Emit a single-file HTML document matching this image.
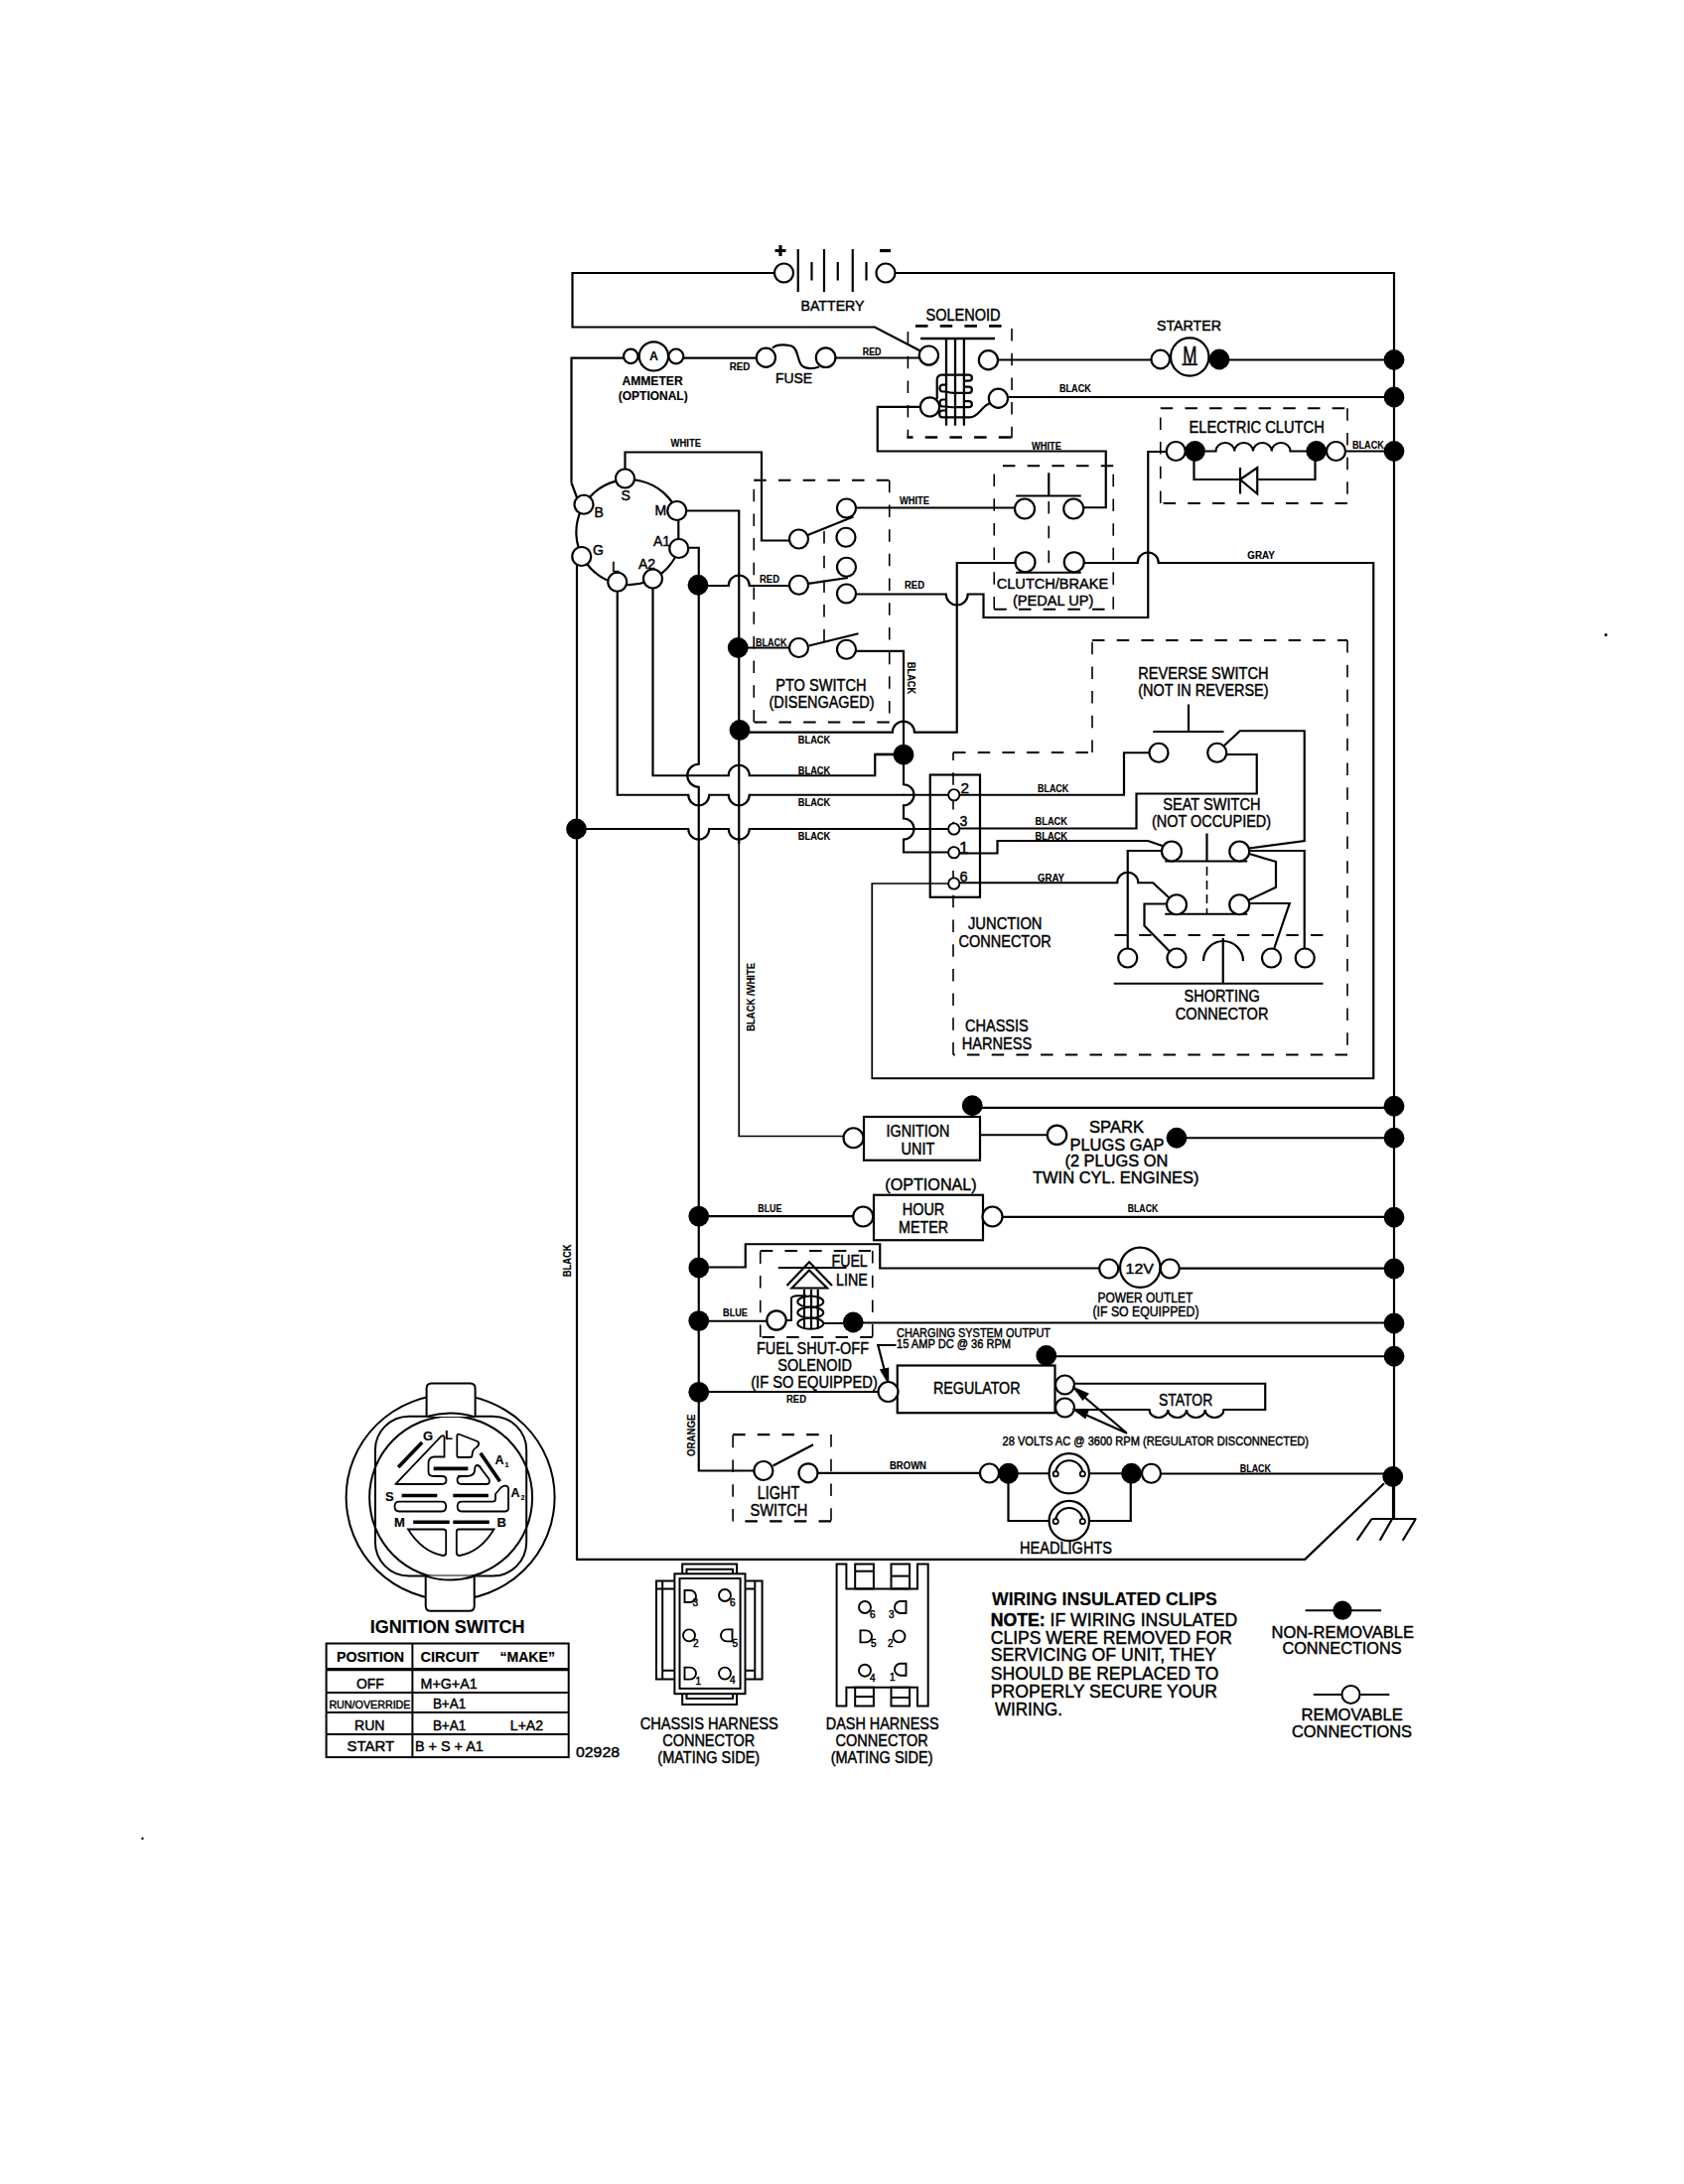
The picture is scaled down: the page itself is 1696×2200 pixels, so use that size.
<!DOCTYPE html>
<html><head><meta charset="utf-8"><style>
html,body{margin:0;padding:0;background:#fff;}
svg{display:block;}
text{font-family:"Liberation Sans",sans-serif;fill:#000;stroke:#000;stroke-width:0.45px;}
text[font-weight="bold"]{stroke-width:0.15px;}
</style></head><body>
<svg width="1696" height="2200" viewBox="0 0 1696 2200" stroke="#000" fill="none" stroke-linecap="butt" stroke-linejoin="miter">
<rect x="0" y="0" width="1696" height="2200" fill="#fff" stroke="none"/>
<path d="M780,275 H576.5 V329.5 H881 L927,353.5" stroke-width="2.2"/>
<circle cx="789.5" cy="275" r="9.5" fill="#fff" stroke-width="2.2"/>
<circle cx="892" cy="275" r="9.5" fill="#fff" stroke-width="2.2"/>
<line x1="803.75" y1="251" x2="803.75" y2="294" stroke-width="2.2"/>
<line x1="830" y1="251" x2="830" y2="294" stroke-width="2.2"/>
<line x1="858.75" y1="251" x2="858.75" y2="294" stroke-width="2.2"/>
<line x1="817.5" y1="264" x2="817.5" y2="282.5" stroke-width="2.2"/>
<line x1="843.75" y1="264" x2="843.75" y2="282.5" stroke-width="2.2"/>
<line x1="872.5" y1="264" x2="872.5" y2="282.5" stroke-width="2.2"/>
<path d="M901.5,275 H1404 V1530" stroke-width="2.2"/>
<path d="M780.5,252.5 H791.5 M786,247 V258" stroke-width="3.2"/>
<path d="M886,252.5 H897" stroke-width="3.2"/>
<text x="806.5" y="312.5" font-size="15.26" textLength="64" lengthAdjust="spacingAndGlyphs">BATTERY</text>
<text x="932.5" y="322.5" font-size="16.28" textLength="75" lengthAdjust="spacingAndGlyphs">SOLENOID</text>
<path d="M922,328.4 L1010,328.4" stroke-width="2.6" stroke-dasharray="12.5 12.2" stroke-dashoffset="0"/>
<path d="M914.4,334 L914.4,441.2" stroke-width="1.6" stroke-dasharray="12.5 12.2" stroke-dashoffset="0"/>
<path d="M913.5,440.5 L1019,440.5" stroke-width="2.5" stroke-dasharray="6 12.2 12.5 12.2 12.5 12.2 12.5 12.2 12.5 12.2" stroke-dashoffset="0"/>
<path d="M1019,331 L1019,441.2" stroke-width="1.6" stroke-dasharray="12.5 12.2" stroke-dashoffset="0"/>
<line x1="927.1" y1="340.9" x2="1001.9" y2="340.9" stroke-width="2.5"/>
<line x1="953" y1="340.9" x2="953" y2="428.7" stroke-width="2.3"/>
<line x1="962" y1="340.9" x2="962" y2="428.7" stroke-width="2.3"/>
<line x1="970.9" y1="340.9" x2="970.9" y2="428.7" stroke-width="2.3"/>
<path d="M943.7,402 V382.5 Q944,377.7 949,377.7 H975.5 C980,377.7 980,383.6 975.5,383.6 H971" stroke-width="2.2"/>
<path d="M971,389.6 H975.5 C980,389.6 980,395.8 975.5,395.8 H962 Q957,396 953,394.5 H949.5 C945.5,394.5 945.5,387.6 949.5,387.6 H953" stroke-width="2.2"/>
<path d="M971,404.2 H975.5 C980,404.2 980,410.2 975.5,410.2 H962 Q957,410.5 953,409.5 H949.5 C945.5,409.5 945.5,402.5 949.5,402.5 H953" stroke-width="2.2"/>
<path d="M953,413.5 H949.5 C945,413.5 945,420.3 949.5,420.3 H977 C985,420.3 988,410 996.6,406.2" stroke-width="2.2"/>
<circle cx="935.4" cy="358.1" r="9.6" fill="#fff" stroke-width="2.2"/>
<circle cx="995.4" cy="362.8" r="9.6" fill="#fff" stroke-width="2.2"/>
<circle cx="936.5" cy="409.9" r="9.6" fill="#fff" stroke-width="2.2"/>
<circle cx="1005.4" cy="401.3" r="9.6" fill="#fff" stroke-width="2.2"/>
<path d="M1005,362.5 H1159.5" stroke-width="2.2"/>
<circle cx="1168.75" cy="362" r="9.3" fill="#fff" stroke-width="2.2"/>
<circle cx="1198.25" cy="359.5" r="19.2" fill="#fff" stroke-width="2.2"/>
<text x="1191.2" y="366.4" font-size="23.5" textLength="14.2" lengthAdjust="spacingAndGlyphs">M</text>
<line x1="1190.5" y1="367.2" x2="1206" y2="367.2" stroke-width="1.8"/>
<circle cx="1228" cy="362" r="10.4" fill="#000" stroke="none"/>
<path d="M1237,362.5 H1404" stroke-width="2.2"/>
<text x="1165" y="333" font-size="15.26" textLength="65" lengthAdjust="spacingAndGlyphs">STARTER</text>
<path d="M1015,400 H1404" stroke-width="2.2"/>
<text x="1067" y="395" font-size="10.17" font-weight="bold" textLength="31.75" lengthAdjust="spacingAndGlyphs">BLACK</text>
<circle cx="1404" cy="362.5" r="10.4" fill="#000" stroke="none"/>
<circle cx="1404" cy="400" r="10.4" fill="#000" stroke="none"/>
<circle cx="1404" cy="454.5" r="10.4" fill="#000" stroke="none"/>
<path d="M575.5,486.5 V360.65 H628.5" stroke-width="2.2"/>
<path d="M581,501 L575.5,486.5" stroke-width="2.2"/>
<circle cx="635.3" cy="358.9" r="7.2" fill="#fff" stroke-width="2.2"/>
<circle cx="658.4" cy="358.9" r="14.6" fill="#fff" stroke-width="2.2"/>
<circle cx="680.9" cy="358.9" r="7.4" fill="#fff" stroke-width="2.2"/>
<text x="658.5" y="362.8" font-size="12.35" font-weight="bold" text-anchor="middle">A</text>
<path d="M688.3,360.65 H761.8" stroke-width="2.2"/>
<circle cx="771.4" cy="360.3" r="9.6" fill="#fff" stroke-width="2.2"/>
<circle cx="831.6" cy="360.2" r="9.8" fill="#fff" stroke-width="2.2"/>
<path d="M778,350.5 C782,347 790,347 797,348.5 C803,350 803,360 806,366 C809,372 818,372 825,369.5" stroke-width="2.2"/>
<path d="M841.4,360.5 H926" stroke-width="2.2"/>
<text x="734.7" y="372.8" font-size="10.47" font-weight="bold" textLength="20.7" lengthAdjust="spacingAndGlyphs">RED</text>
<text x="868.75" y="358" font-size="10.17" font-weight="bold" textLength="18.75" lengthAdjust="spacingAndGlyphs">RED</text>
<text x="781" y="386.3" font-size="14.53" textLength="37.1" lengthAdjust="spacingAndGlyphs">FUSE</text>
<text x="626.4" y="388.4" font-size="12.35" font-weight="bold" textLength="61.3" lengthAdjust="spacingAndGlyphs">AMMETER</text>
<text x="622.8" y="402.5" font-size="12.79" font-weight="bold" textLength="69.9" lengthAdjust="spacingAndGlyphs">(OPTIONAL)</text>
<path d="M926.9,409.9 H883.75 V454.5 H1113.75 V511.25 H1091.3" stroke-width="2.2"/>
<text x="1039" y="453" font-size="10.17" font-weight="bold" textLength="30" lengthAdjust="spacingAndGlyphs">WHITE</text>
<path d="M683.75,552.5 A53,53 0 1 1 681.75,514.5" stroke-width="2.2"/>
<path d="M683.3,522 V544" stroke-width="2.2"/>
<path d="M629.5,472.5 V455.5 H767 V544.5 H795" stroke-width="2.2"/>
<text x="675.5" y="450" font-size="10.17" font-weight="bold" textLength="30.5" lengthAdjust="spacingAndGlyphs">WHITE</text>
<path d="M691.2,514.5 H744.25 V850" stroke-width="2.2"/>
<path d="M744.25,848 V1144.5 H849.8" stroke-width="1.7"/>
<path d="M693.2,551.75 H703.75 V769.75 A11.5,11.5 0 0 0 703.75,792.75 V1481.5 H759.4" stroke-width="2.2"/>
<path d="M581,569 V1570.8 H1314.2 L1394,1494.3" stroke-width="2.2"/>
<path d="M621.75,595.7 V800.75 H693.25 A10.5,10.5 0 0 0 714.25,800.75 H733.75 A10.5,10.5 0 0 0 754.75,800.75 H909.99 A0.01,0.01 0 0 1 910.01,800.75 H955.7" stroke-width="2.2"/>
<path d="M657.5,592.5 V781.25 H733.75 A10.5,10.5 0 0 1 754.75,781.25 H881.25 V760.2 H900" stroke-width="2.2"/>
<circle cx="580.5" cy="835" r="10.4" fill="#000" stroke="none"/>
<path d="M590,835 H693.25 A10.5,10.5 0 0 0 714.25,835 H733.75 A10.5,10.5 0 0 0 754.75,835 H955.7" stroke-width="2.2"/>
<circle cx="629.5" cy="482" r="9.5" fill="#fff" stroke-width="2.2"/>
<circle cx="588" cy="508.25" r="9.5" fill="#fff" stroke-width="2.2"/>
<circle cx="681.75" cy="514.5" r="9.5" fill="#fff" stroke-width="2.2"/>
<circle cx="683.75" cy="552.5" r="9.5" fill="#fff" stroke-width="2.2"/>
<circle cx="585.75" cy="560.5" r="9.5" fill="#fff" stroke-width="2.2"/>
<circle cx="621.75" cy="586.25" r="9.5" fill="#fff" stroke-width="2.2"/>
<circle cx="657.5" cy="583" r="9.5" fill="#fff" stroke-width="2.2"/>
<text x="625.5" y="504" font-size="14">S</text>
<text x="598.5" y="521" font-size="14">B</text>
<text x="659.5" y="519" font-size="14">M</text>
<text x="658" y="549.5" font-size="14">A1</text>
<text x="597" y="559" font-size="14">G</text>
<text x="616" y="575.5" font-size="14">L</text>
<text x="643" y="573" font-size="14">A2</text>
<path d="M759.25,727.5 L759.25,483.75" stroke-width="1.6" stroke-dasharray="12.5 12.2" stroke-dashoffset="0"/>
<path d="M759.25,483.75 L895.75,483.75" stroke-width="2.2" stroke-dasharray="12.5 12.2" stroke-dashoffset="0"/>
<path d="M895.75,483.75 L895.75,727.5" stroke-width="1.6" stroke-dasharray="12.5 12.2" stroke-dashoffset="0"/>
<path d="M895.75,727.5 L759.25,727.5" stroke-width="2.2" stroke-dasharray="12.5 12.2" stroke-dashoffset="0"/>
<path d="M830,535 L830,648" stroke-width="1.6" stroke-dasharray="12.5 12.2" stroke-dashoffset="0"/>
<circle cx="852.5" cy="512" r="9.5" fill="#fff" stroke-width="2.2"/>
<circle cx="804.5" cy="543" r="9.5" fill="#fff" stroke-width="2.2"/>
<circle cx="852" cy="541.25" r="9.5" fill="#fff" stroke-width="2.2"/>
<circle cx="852.5" cy="571.25" r="9.5" fill="#fff" stroke-width="2.2"/>
<circle cx="804.5" cy="589.25" r="9.5" fill="#fff" stroke-width="2.2"/>
<circle cx="852.5" cy="598" r="9.5" fill="#fff" stroke-width="2.2"/>
<circle cx="804.5" cy="652.5" r="9.5" fill="#fff" stroke-width="2.2"/>
<circle cx="852.5" cy="654.25" r="9.5" fill="#fff" stroke-width="2.2"/>
<line x1="813.5" y1="539" x2="859.5" y2="520.5" stroke-width="2.2"/>
<line x1="814" y1="587.8" x2="854" y2="582" stroke-width="2.2"/>
<line x1="814.5" y1="650.5" x2="864.5" y2="638.25" stroke-width="2.2"/>
<path d="M862,511.5 H1022.3" stroke-width="2.2"/>
<text x="906" y="507.5" font-size="10.17" font-weight="bold" textLength="30" lengthAdjust="spacingAndGlyphs">WHITE</text>
<circle cx="703" cy="589.25" r="10.4" fill="#000" stroke="none"/>
<path d="M712,590 H733.75 A10.5,10.5 0 0 1 754.75,590 H795" stroke-width="2.2"/>
<text x="765" y="587" font-size="10.17" font-weight="bold" textLength="20" lengthAdjust="spacingAndGlyphs">RED</text>
<path d="M862,598.5 H952.75 A11,11 0 0 0 974.75,598.5 H990.5 V622 H1156.25 V455 H1174.7" stroke-width="2.2"/>
<text x="911" y="592.5" font-size="10.17" font-weight="bold" textLength="20" lengthAdjust="spacingAndGlyphs">RED</text>
<circle cx="743.25" cy="652.5" r="10.4" fill="#000" stroke="none"/>
<path d="M752,652.5 H795" stroke-width="2.2"/>
<text x="761" y="650.75" font-size="10.17" font-weight="bold" textLength="31.5" lengthAdjust="spacingAndGlyphs">BLACK</text>
<text x="781.25" y="695.5" font-size="16.72" textLength="91.25" lengthAdjust="spacingAndGlyphs">PTO SWITCH</text>
<text x="774.5" y="712.5" font-size="16.72" textLength="106" lengthAdjust="spacingAndGlyphs">(DISENGAGED)</text>
<path d="M862,655.8 H910 V737.7 V760 V790.25 A10.5,10.5 0 0 1 910,811.25 V824.5 A10.5,10.5 0 0 1 910,845.5 V858.5 H955.7" stroke-width="2.2"/>
<text x="667" y="-914" font-size="10.5" font-weight="bold" textLength="32" lengthAdjust="spacingAndGlyphs" transform="rotate(90)">BLACK</text>
<circle cx="910" cy="760.1" r="10.4" fill="#000" stroke="none"/>
<circle cx="745" cy="735.5" r="10.4" fill="#000" stroke="none"/>
<path d="M754,737.6 H898.9 A11,11 0 0 1 920.9,737.6 H963.75 V567 H1022.5" stroke-width="2.2"/>
<path d="M880.8,759.7 H900" stroke-width="2.2"/>
<text x="803.75" y="749" font-size="10.17" font-weight="bold" textLength="32.5" lengthAdjust="spacingAndGlyphs">BLACK</text>
<text x="803.75" y="779.5" font-size="10.17" font-weight="bold" textLength="32.5" lengthAdjust="spacingAndGlyphs">BLACK</text>
<text x="803.75" y="812" font-size="10.17" font-weight="bold" textLength="32.5" lengthAdjust="spacingAndGlyphs">BLACK</text>
<text x="803.75" y="845.5" font-size="10.17" font-weight="bold" textLength="32.5" lengthAdjust="spacingAndGlyphs">BLACK</text>
<path d="M1001.25,477.5 L1001.25,613.75" stroke-width="1.6" stroke-dasharray="12.5 12.2" stroke-dashoffset="0"/>
<path d="M1001.25,613.75 L1121.25,613.75" stroke-width="2.2" stroke-dasharray="12.5 12.2" stroke-dashoffset="0"/>
<path d="M1121.25,613.75 L1121.25,469.25" stroke-width="1.6" stroke-dasharray="12.5 12.2" stroke-dashoffset="0"/>
<path d="M1121.25,469.25 L1001.25,469.25" stroke-width="2.2" stroke-dasharray="12.5 12.2" stroke-dashoffset="0"/>
<line x1="1056.25" y1="476.25" x2="1056.25" y2="499.5" stroke-width="2.2"/>
<line x1="1023.25" y1="499.5" x2="1088.75" y2="499.5" stroke-width="2.2"/>
<path d="M1056.25,505 L1056.25,576" stroke-width="1.6" stroke-dasharray="12.5 12.2" stroke-dashoffset="0"/>
<line x1="1023.25" y1="576.75" x2="1088.75" y2="576.75" stroke-width="2.2"/>
<circle cx="1032" cy="512.5" r="10" fill="#fff" stroke-width="2.2"/>
<circle cx="1081.25" cy="512.5" r="10" fill="#fff" stroke-width="2.2"/>
<circle cx="1032.5" cy="566.25" r="10" fill="#fff" stroke-width="2.2"/>
<circle cx="1081.75" cy="566.25" r="10" fill="#fff" stroke-width="2.2"/>
<text x="1003.75" y="593" font-size="15.26" textLength="112.5" lengthAdjust="spacingAndGlyphs">CLUTCH/BRAKE</text>
<text x="1020" y="610" font-size="15.26" textLength="81.25" lengthAdjust="spacingAndGlyphs">(PEDAL UP)</text>
<path d="M1091.5,567 H1145.75 A10.5,10.5 0 0 1 1166.75,567 H1383.25 V1086.25 H878.25" stroke-width="2.2"/>
<path d="M878.25,1087 V890 H956.2" stroke-width="1.7"/>
<text x="1256.25" y="562.5" font-size="10.17" font-weight="bold" textLength="27.5" lengthAdjust="spacingAndGlyphs">GRAY</text>
<path d="M1168.75,507 L1168.75,411.25" stroke-width="1.6" stroke-dasharray="12.5 12.2" stroke-dashoffset="0"/>
<path d="M1168.75,411.25 L1357,411.25" stroke-width="2.2" stroke-dasharray="12.5 12.2" stroke-dashoffset="0"/>
<path d="M1357,411.25 L1357,507" stroke-width="1.6" stroke-dasharray="12.5 12.2" stroke-dashoffset="0"/>
<path d="M1357,507 L1168.75,507" stroke-width="2.2" stroke-dasharray="12.5 12.2" stroke-dashoffset="0"/>
<text x="1197.5" y="436.25" font-size="15.99" textLength="136.25" lengthAdjust="spacingAndGlyphs">ELECTRIC CLUTCH</text>
<circle cx="1184.25" cy="454.5" r="9.5" fill="#fff" stroke-width="2.2"/>
<circle cx="1203.5" cy="454.5" r="10.4" fill="#000" stroke="none"/>
<circle cx="1325.75" cy="454.5" r="10.4" fill="#000" stroke="none"/>
<circle cx="1345.5" cy="454.5" r="9.5" fill="#fff" stroke-width="2.2"/>
<path d="M1203.5,454.5 H1224.5 A9.375,8.5 0 0 1 1243.25,454.5 A9.375,8.5 0 0 1 1262,454.5 A9.375,8.5 0 0 1 1280.75,454.5 A9.375,8.5 0 0 1 1299.5,454.5 H1325.75" stroke-width="2.2"/>
<path d="M1202.5,454.5 V483 H1249 M1266.25,483 H1324.5 V454.5" stroke-width="2.2"/>
<line x1="1249" y1="471" x2="1249" y2="497.5" stroke-width="2.2"/>
<path d="M1249,483 L1266.25,471 V497.5 Z" stroke-width="2.2"/>
<path d="M1355,454.5 H1404" stroke-width="2.2"/>
<text x="1362" y="452" font-size="10.17" font-weight="bold" textLength="31.75" lengthAdjust="spacingAndGlyphs">BLACK</text>
<rect x="936.75" y="780.5" width="50.25" height="123.25" fill="none" stroke-width="2.2"/>
<path d="M960,758 L1100,758" stroke-width="2.2" stroke-dasharray="12.5 12.2" stroke-dashoffset="0"/>
<path d="M1100,758 L1100,645" stroke-width="1.6" stroke-dasharray="12.5 12.2" stroke-dashoffset="0"/>
<path d="M1100,645 L1357,645" stroke-width="2.2" stroke-dasharray="12.5 12.2" stroke-dashoffset="0"/>
<path d="M1357,645 L1357,1062.5" stroke-width="1.6" stroke-dasharray="12.5 12.2" stroke-dashoffset="0"/>
<path d="M1357,1062.5 L960,1062.5" stroke-width="2.2" stroke-dasharray="12.5 12.2" stroke-dashoffset="0"/>
<path d="M960,1062.5 L960,758" stroke-width="1.6" stroke-dasharray="12.5 12.2" stroke-dashoffset="0"/>
<circle cx="960.75" cy="800.75" r="5.6" fill="#fff" stroke-width="1.9"/>
<circle cx="960.75" cy="835" r="5.6" fill="#fff" stroke-width="1.9"/>
<circle cx="960.75" cy="858.75" r="5.6" fill="#fff" stroke-width="1.9"/>
<circle cx="960.75" cy="890" r="5.6" fill="#fff" stroke-width="1.9"/>
<text x="967.5" y="798.7" font-size="15.29">2</text>
<text x="966.5" y="831.7" font-size="14">3</text>
<text x="966" y="859.5" font-size="17.14">1</text>
<text x="966.5" y="887.6" font-size="14.57">6</text>
<text x="975" y="936.25" font-size="15.99" textLength="74.5" lengthAdjust="spacingAndGlyphs">JUNCTION</text>
<text x="965.5" y="954.25" font-size="15.99" textLength="93.25" lengthAdjust="spacingAndGlyphs">CONNECTOR</text>
<text x="972" y="1038.75" font-size="15.7" textLength="63.75" lengthAdjust="spacingAndGlyphs">CHASSIS</text>
<text x="968.75" y="1056.75" font-size="16.28" textLength="70.5" lengthAdjust="spacingAndGlyphs">HARNESS</text>
<text x="1045" y="798" font-size="10.17" font-weight="bold" textLength="31.25" lengthAdjust="spacingAndGlyphs">BLACK</text>
<text x="1042.5" y="831.25" font-size="10.17" font-weight="bold" textLength="32.5" lengthAdjust="spacingAndGlyphs">BLACK</text>
<text x="1042.5" y="845.5" font-size="10.17" font-weight="bold" textLength="32.5" lengthAdjust="spacingAndGlyphs">BLACK</text>
<text x="1045" y="887.5" font-size="10.17" font-weight="bold" textLength="27" lengthAdjust="spacingAndGlyphs">GRAY</text>
<text x="1146.25" y="683.5" font-size="15.99" textLength="131.25" lengthAdjust="spacingAndGlyphs">REVERSE SWITCH</text>
<text x="1146.25" y="700.5" font-size="15.99" textLength="131.25" lengthAdjust="spacingAndGlyphs">(NOT IN REVERSE)</text>
<line x1="1197" y1="709.5" x2="1197" y2="737" stroke-width="2.2"/>
<line x1="1161.25" y1="737" x2="1232.5" y2="737" stroke-width="2.2"/>
<circle cx="1167" cy="758.25" r="9.5" fill="#fff" stroke-width="2.2"/>
<circle cx="1225.75" cy="758.25" r="9.5" fill="#fff" stroke-width="2.2"/>
<path d="M966,800.75 H1132 V758.25 H1157.5" stroke-width="2.2"/>
<path d="M1233,751 L1248.75,736.25 H1313.75 V847 L1258,854.5" stroke-width="2.2"/>
<path d="M1235.25,760 H1265.75 V799.5 H1144.5 V834.5 H966" stroke-width="2.2"/>
<text x="1171.25" y="816.25" font-size="16.28" textLength="98.25" lengthAdjust="spacingAndGlyphs">SEAT SWITCH</text>
<text x="1160" y="833" font-size="16.28" textLength="120" lengthAdjust="spacingAndGlyphs">(NOT OCCUPIED)</text>
<line x1="1215.5" y1="839.5" x2="1215.5" y2="867.5" stroke-width="2.2"/>
<line x1="1173.25" y1="867.5" x2="1256.25" y2="867.5" stroke-width="2.2"/>
<path d="M1215.5,873 L1215.5,920" stroke-width="1.6" stroke-dasharray="9 5" stroke-dashoffset="0"/>
<line x1="1173.25" y1="920.75" x2="1256.25" y2="920.75" stroke-width="2.2"/>
<path d="M966,859.5 H1004.5 V847 H1156.25 L1172,852.5" stroke-width="2.2"/>
<path d="M1170,857 H1135.75 V955.5" stroke-width="2.2"/>
<path d="M1258,857 H1313.75 V955.5" stroke-width="2.2"/>
<path d="M1258,860 L1285,868 V893.75 L1257,907" stroke-width="2.2"/>
<path d="M966,889.25 H1125.25 A10.5,10.5 0 0 1 1146.25,889.25 H1161.25 L1177,904" stroke-width="2.2"/>
<path d="M1175,910.5 H1152.5 V932.5 L1178,958.5" stroke-width="2.2"/>
<path d="M1258,910 H1298.75 L1283,956" stroke-width="2.2"/>
<circle cx="1180" cy="857.5" r="10" fill="#fff" stroke-width="2.2"/>
<circle cx="1248.25" cy="857.5" r="10" fill="#fff" stroke-width="2.2"/>
<circle cx="1185" cy="911.25" r="10" fill="#fff" stroke-width="2.2"/>
<circle cx="1248.25" cy="911.25" r="10" fill="#fff" stroke-width="2.2"/>
<path d="M1122.5,942 L1332.5,942" stroke-width="1.8" stroke-dasharray="12.3 12.4" stroke-dashoffset="0"/>
<circle cx="1135.75" cy="965" r="9.5" fill="#fff" stroke-width="2.2"/>
<circle cx="1185" cy="965" r="9.5" fill="#fff" stroke-width="2.2"/>
<circle cx="1280.5" cy="965" r="9.5" fill="#fff" stroke-width="2.2"/>
<circle cx="1314.25" cy="965" r="9.5" fill="#fff" stroke-width="2.2"/>
<path d="M1212,968 A20,20 0 0 1 1252,968" stroke-width="2.2"/>
<line x1="1231.75" y1="945" x2="1231.75" y2="990.75" stroke-width="2.2"/>
<line x1="1121.75" y1="990.75" x2="1332.5" y2="990.75" stroke-width="2.2"/>
<text x="1192.5" y="1008.75" font-size="15.7" textLength="76.25" lengthAdjust="spacingAndGlyphs">SHORTING</text>
<text x="1183.75" y="1027" font-size="15.7" textLength="93.75" lengthAdjust="spacingAndGlyphs">CONNECTOR</text>
<rect x="870" y="1125" width="117" height="43.75" fill="none" stroke-width="2.2"/>
<text x="892.5" y="1145" font-size="15.7" textLength="63.75" lengthAdjust="spacingAndGlyphs">IGNITION</text>
<text x="907.5" y="1162.5" font-size="16.28" textLength="33.75" lengthAdjust="spacingAndGlyphs">UNIT</text>
<circle cx="859.5" cy="1146.25" r="10" fill="#fff" stroke-width="2.2"/>
<circle cx="979.25" cy="1113.75" r="10.4" fill="#000" stroke="none"/>
<path d="M989,1115.8 H1404" stroke-width="2.2"/>
<path d="M987,1143.25 H1054.5" stroke-width="2.2"/>
<circle cx="1064.5" cy="1143.25" r="9.7" fill="#fff" stroke-width="2.2"/>
<circle cx="1185" cy="1146.25" r="10.4" fill="#000" stroke="none"/>
<path d="M1195,1146.25 H1404" stroke-width="2.2"/>
<text x="1097" y="1141.25" font-size="16.28" textLength="55" lengthAdjust="spacingAndGlyphs">SPARK</text>
<text x="1077.5" y="1158.75" font-size="16.72" textLength="95" lengthAdjust="spacingAndGlyphs">PLUGS GAP</text>
<text x="1072.5" y="1174.5" font-size="16.42" textLength="103.75" lengthAdjust="spacingAndGlyphs">(2 PLUGS ON</text>
<text x="1040" y="1191.5" font-size="16.42" textLength="167.5" lengthAdjust="spacingAndGlyphs">TWIN CYL. ENGINES)</text>
<text x="-1038.75" y="760" font-size="10" font-weight="bold" textLength="68.75" lengthAdjust="spacingAndGlyphs" transform="rotate(-90)">BLACK /WHITE</text>
<circle cx="703.75" cy="1225.1" r="10.4" fill="#000" stroke="none"/>
<path d="M713,1225.2 H859.3" stroke-width="2.2"/>
<text x="763.25" y="1220.8" font-size="10.9" font-weight="bold" textLength="24.25" lengthAdjust="spacingAndGlyphs">BLUE</text>
<rect x="880" y="1203.75" width="110" height="45.5" fill="none" stroke-width="2.2"/>
<circle cx="869.25" cy="1225.5" r="10" fill="#fff" stroke-width="2.2"/>
<circle cx="999.5" cy="1225.5" r="10" fill="#fff" stroke-width="2.2"/>
<path d="M1009.5,1225.9 H1404" stroke-width="2.2"/>
<text x="891.25" y="1199" font-size="16.72" textLength="92.5" lengthAdjust="spacingAndGlyphs">(OPTIONAL)</text>
<text x="908.75" y="1224.25" font-size="16.28" textLength="42.5" lengthAdjust="spacingAndGlyphs">HOUR</text>
<text x="905" y="1242" font-size="15.7" textLength="50" lengthAdjust="spacingAndGlyphs">METER</text>
<text x="1135.75" y="1221.25" font-size="10.61" font-weight="bold" textLength="30.5" lengthAdjust="spacingAndGlyphs">BLACK</text>
<circle cx="703.75" cy="1277" r="10.4" fill="#000" stroke="none"/>
<path d="M713,1276.5 H750.75 V1253.25 H886.25 V1277.5 H1107.2" stroke-width="2.2"/>
<circle cx="1116.75" cy="1278" r="9.5" fill="#fff" stroke-width="2.2"/>
<circle cx="1148.25" cy="1276.75" r="20.2" fill="#fff" stroke-width="2.2"/>
<circle cx="1178.25" cy="1278" r="9.5" fill="#fff" stroke-width="2.2"/>
<text x="1133.5" y="1283" font-size="14.5" textLength="28.5" lengthAdjust="spacingAndGlyphs">12V</text>
<path d="M1187.8,1277.7 H1402" stroke-width="2.2"/>
<text x="1105.5" y="1312" font-size="13.95" textLength="95.75" lengthAdjust="spacingAndGlyphs">POWER OUTLET</text>
<text x="1100.5" y="1325.5" font-size="13.95" textLength="107" lengthAdjust="spacingAndGlyphs">(IF SO EQUIPPED)</text>
<path d="M765.75,1347 L765.75,1260" stroke-width="1.6" stroke-dasharray="12.5 12.2" stroke-dashoffset="0"/>
<path d="M765.75,1260 L878.75,1260" stroke-width="2.2" stroke-dasharray="12.5 12.2" stroke-dashoffset="0"/>
<path d="M878.75,1260 L878.75,1347" stroke-width="1.6" stroke-dasharray="12.5 12.2" stroke-dashoffset="0"/>
<path d="M878.75,1347 L765.75,1347" stroke-width="2.2" stroke-dasharray="12.5 12.2" stroke-dashoffset="0"/>
<text x="837.5" y="1276.25" font-size="16.28" textLength="36.25" lengthAdjust="spacingAndGlyphs">FUEL</text>
<text x="842" y="1294.5" font-size="15.7" textLength="31.75" lengthAdjust="spacingAndGlyphs">LINE</text>
<line x1="783.75" y1="1277" x2="852.5" y2="1277" stroke-width="2.2"/>
<path d="M792.5,1295 L815,1271.3 L838,1295" stroke-width="2.2"/>
<path d="M797.5,1297.5 L815,1279.5 L833,1297.5 Z" stroke-width="2.2"/>
<line x1="810" y1="1298.75" x2="810" y2="1338.75" stroke-width="2.2"/>
<line x1="817" y1="1298.75" x2="817" y2="1338.75" stroke-width="2.2"/>
<line x1="823.75" y1="1298.75" x2="823.75" y2="1338.75" stroke-width="2.2"/>
<path d="M791.5,1330 H797 V1307.5 Q798,1305.5 803,1305.2 H812" stroke-width="2"/>
<ellipse cx="816.3" cy="1311.2" rx="13" ry="5.6" fill="none" stroke-width="2"/>
<ellipse cx="816.3" cy="1322.2" rx="13" ry="5.6" fill="none" stroke-width="2"/>
<ellipse cx="816.3" cy="1333.2" rx="13" ry="5.6" fill="none" stroke-width="2"/>
<path d="M829.3,1333 H850" stroke-width="2"/>
<circle cx="782" cy="1330" r="9.7" fill="#fff" stroke-width="2.2"/>
<circle cx="703.75" cy="1330.6" r="10.4" fill="#000" stroke="none"/>
<path d="M713,1330.75 H772.3" stroke-width="2.2"/>
<text x="728" y="1326.25" font-size="10.9" font-weight="bold" textLength="25" lengthAdjust="spacingAndGlyphs">BLUE</text>
<circle cx="859.25" cy="1332" r="10.4" fill="#000" stroke="none"/>
<path d="M869,1332.5 H1402" stroke-width="2.2"/>
<text x="762" y="1363.75" font-size="16.28" textLength="113" lengthAdjust="spacingAndGlyphs">FUEL SHUT-OFF</text>
<text x="783.25" y="1381.25" font-size="16.28" textLength="74.75" lengthAdjust="spacingAndGlyphs">SOLENOID</text>
<text x="756.25" y="1397.5" font-size="16.28" textLength="127.5" lengthAdjust="spacingAndGlyphs">(IF SO EQUIPPED)</text>
<text x="903" y="1346.6" font-size="12.5" textLength="155" lengthAdjust="spacingAndGlyphs">CHARGING SYSTEM OUTPUT</text>
<text x="903" y="1357.5" font-size="11.92" textLength="115" lengthAdjust="spacingAndGlyphs">15 AMP DC @ 36 RPM</text>
<path d="M902.5,1355 H884.25 L891.5,1383" stroke-width="2.2"/>
<path d="M894.5,1392.5 L887,1380 L894.5,1378.5 Z" stroke-width="1.5" fill="#000"/>
<circle cx="1053.75" cy="1365.5" r="10.4" fill="#000" stroke="none"/>
<path d="M1063,1366.25 H1404" stroke-width="2.2"/>
<rect x="903.75" y="1375.5" width="158.75" height="47.75" fill="none" stroke-width="2.2"/>
<text x="940" y="1403.75" font-size="15.7" textLength="87.5" lengthAdjust="spacingAndGlyphs">REGULATOR</text>
<circle cx="894.5" cy="1402" r="10" fill="#fff" stroke-width="2.2"/>
<circle cx="703.75" cy="1402.3" r="10.4" fill="#000" stroke="none"/>
<path d="M713,1402 H884.5" stroke-width="2.2"/>
<text x="792" y="1413" font-size="10.17" font-weight="bold" textLength="20" lengthAdjust="spacingAndGlyphs">RED</text>
<circle cx="1072.5" cy="1395" r="9.5" fill="#fff" stroke-width="2.2"/>
<circle cx="1072.5" cy="1418" r="9.5" fill="#fff" stroke-width="2.2"/>
<path d="M1082,1393.75 H1274.25 V1420 H1232.5 A9.375,8 0 0 1 1213.75,1420 A9.375,8 0 0 1 1195,1420 A9.375,8 0 0 1 1176.25,1420 A9.375,8 0 0 1 1157.5,1420 H1081.5" stroke-width="2.2"/>
<text x="1167" y="1416.25" font-size="16.28" textLength="54.25" lengthAdjust="spacingAndGlyphs">STATOR</text>
<path d="M1135,1443.75 L1083,1399.5 M1135,1443.75 L1083,1420.5" stroke-width="2.2"/>
<path d="M1081.2,1397.5 L1096,1404 L1090.5,1410 Z" stroke-width="1.2" fill="#000"/>
<path d="M1081.2,1419.5 L1096,1421 L1093,1428.5 Z" stroke-width="1.2" fill="#000"/>
<text x="1009.5" y="1456.2" font-size="12.06" textLength="308.5" lengthAdjust="spacingAndGlyphs">28 VOLTS AC @ 3600 RPM (REGULATOR DISCONNECTED)</text>
<text x="-1466.9" y="699.7" font-size="10.3" font-weight="bold" textLength="42.2" lengthAdjust="spacingAndGlyphs" transform="rotate(-90)">ORANGE</text>
<text x="-1286.3" y="575" font-size="10.5" font-weight="bold" textLength="32.7" lengthAdjust="spacingAndGlyphs" transform="rotate(-90)">BLACK</text>
<path d="M738.1,1532.4 L738.1,1445.1" stroke-width="1.6" stroke-dasharray="12.5 12.2" stroke-dashoffset="0"/>
<path d="M738.1,1445.1 L837,1445.1" stroke-width="2.2" stroke-dasharray="12.5 12.2" stroke-dashoffset="0"/>
<path d="M837,1445.1 L837,1532.4" stroke-width="1.6" stroke-dasharray="12.5 12.2" stroke-dashoffset="0"/>
<path d="M837,1532.4 L738.1,1532.4" stroke-width="2.2" stroke-dasharray="12.5 12.2" stroke-dashoffset="0"/>
<circle cx="768.9" cy="1481.5" r="9.5" fill="#fff" stroke-width="2.2"/>
<circle cx="814" cy="1483.8" r="9.5" fill="#fff" stroke-width="2.2"/>
<line x1="778.5" y1="1476.5" x2="819" y2="1455.3" stroke-width="2.2"/>
<path d="M823.5,1483.8 H987" stroke-width="2.2"/>
<text x="896" y="1480" font-size="10.61" font-weight="bold" textLength="37" lengthAdjust="spacingAndGlyphs">BROWN</text>
<text x="762.8" y="1510" font-size="17.88" textLength="42.5" lengthAdjust="spacingAndGlyphs">LIGHT</text>
<text x="755.5" y="1527.4" font-size="16.86" textLength="57.7" lengthAdjust="spacingAndGlyphs">SWITCH</text>
<circle cx="996.5" cy="1484" r="9.5" fill="#fff" stroke-width="2.2"/>
<circle cx="1015.5" cy="1484.25" r="10.4" fill="#000" stroke="none"/>
<path d="M1015.5,1484 V1532 H1138.75 V1484" stroke-width="2.2"/>
<path d="M1025,1484.25 H1129.5" stroke-width="2.2"/>
<circle cx="1076.75" cy="1484.25" r="20.2" fill="#fff" stroke-width="2.2"/>
<path d="M1063,1484.75 A13.75,13.5 0 0 1 1090.5,1484.75" stroke-width="2.2"/>
<circle cx="1063.2" cy="1484.75" r="2.6" fill="#fff" stroke-width="1.8"/>
<circle cx="1090.3" cy="1484.75" r="2.6" fill="#fff" stroke-width="1.8"/>
<circle cx="1076.75" cy="1532" r="20.2" fill="#fff" stroke-width="2.2"/>
<path d="M1063,1532.5 A13.75,13.5 0 0 1 1090.5,1532.5" stroke-width="2.2"/>
<circle cx="1063.2" cy="1532.5" r="2.6" fill="#fff" stroke-width="1.8"/>
<circle cx="1090.3" cy="1532.5" r="2.6" fill="#fff" stroke-width="1.8"/>
<circle cx="1139.5" cy="1484.25" r="10.4" fill="#000" stroke="none"/>
<circle cx="1159.5" cy="1484.25" r="9.5" fill="#fff" stroke-width="2.2"/>
<path d="M1169,1484.5 H1402" stroke-width="2.2"/>
<text x="1248.75" y="1483.25" font-size="10.9" font-weight="bold" textLength="31.25" lengthAdjust="spacingAndGlyphs">BLACK</text>
<text x="1027" y="1565" font-size="16.28" textLength="93" lengthAdjust="spacingAndGlyphs">HEADLIGHTS</text>
<circle cx="1402.75" cy="1487.5" r="10.4" fill="#000" stroke="none"/>
<path d="M1403,1487 V1530 M1381.5,1530 H1426.4 M1381.5,1530 L1366.6,1551.7 M1402.1,1530 L1389.7,1551.7 M1425.8,1530 L1412.7,1551.7" stroke-width="2.2"/>
<circle cx="1404" cy="1114.25" r="10.4" fill="#000" stroke="none"/>
<circle cx="1404" cy="1146.25" r="10.4" fill="#000" stroke="none"/>
<circle cx="1404" cy="1226.25" r="10.4" fill="#000" stroke="none"/>
<circle cx="1404" cy="1278" r="10.4" fill="#000" stroke="none"/>
<circle cx="1404" cy="1333" r="10.4" fill="#000" stroke="none"/>
<circle cx="1404" cy="1366.25" r="10.4" fill="#000" stroke="none"/>
<ellipse cx="453.6" cy="1508.3" rx="105" ry="103.5" fill="#fff" stroke-width="2"/>
<rect x="377.9" y="1426.7" width="152.3" height="160.9" rx="34" ry="34" fill="none" stroke-width="2"/>
<circle cx="454.1" cy="1508.5" r="82" fill="none" stroke-width="2"/>
<path d="M429.6,1427 V1398.5 Q429.6,1393.4 434.7,1393.4 H473.5 Q478.6,1393.4 478.6,1398.5 V1427" fill="#fff" stroke-width="2"/>
<path d="M428.7,1587.6 V1617.8 Q428.7,1622.8 433.7,1622.8 H472.7 Q477.7,1622.8 477.7,1617.8 V1587.6" fill="#fff" stroke-width="2"/>
<path d="M429.6,1427 A82,82 0 0 1 478.6,1427.5" fill="none" stroke-width="2"/>
<path d="M428.7,1587.6 A82,82 0 0 0 477.7,1587.8" fill="none" stroke-width="2"/>
<path d="M401.1,1478 L425.1,1453" stroke-width="3.6"/>
<path d="M483.9,1463.7 L503.5,1492.2" stroke-width="3.6"/>
<path d="M436.7,1479.4 H471.4" stroke-width="3.6"/>
<path d="M404.6,1506.5 H440.3 M456.3,1506.5 H491.9" stroke-width="3.6"/>
<path d="M416.2,1533.2 H452.7 M456.3,1533.2 H492.8" stroke-width="3.6"/>
<path d="M398.5,1494.8 L444.2,1447 Q447,1445 447.5,1448 V1467.5 H437 Q431.5,1468 431.5,1474 V1483 Q431.5,1487 437,1487 H445 Q449.5,1487 449.5,1491 Q449.5,1495 445,1495 H399.5 Z" stroke-width="1.8"/>
<path d="M460.3,1446.5 Q460.3,1444 463,1445 L481,1452 Q484,1454 480,1458 Q475.5,1460 475.5,1466 Q475.5,1468 473,1468 H462 Q460.3,1468 460.3,1466 Z" stroke-width="1.8"/>
<path d="M461,1487 H470 Q477,1487 478,1482 Q478,1476 480.5,1476 Q483,1476 485,1480 L492.5,1490 Q494,1495 490,1495 H465 Q460.5,1495 460.5,1491 Q460.5,1487 465,1487" stroke-width="1.8"/>
<path d="M402,1512.7 H445 Q449.2,1512.7 449.2,1517.5 Q449.2,1522.5 445,1522.5 H402 Q397.5,1522.5 397.5,1517.5 Q397.5,1512.7 402,1512.7 Z" stroke-width="1.8"/>
<path d="M465,1512.7 H496 Q499,1512.7 499,1510 V1505 L505,1498 Q511,1495 512,1499 V1518.5 Q512.4,1522.5 508,1522.5 H465 Q460.7,1522.5 460.7,1517.5 Q460.7,1512.7 465,1512.7 Z" stroke-width="1.8"/>
<path d="M411,1540.5 H446.5 Q449.2,1540.5 449.2,1543 V1564 Q449.2,1567 446,1567 Q425,1563 411,1540.5 Z" stroke-width="1.8"/>
<path d="M497.5,1540.5 H462 Q459.8,1540.5 459.8,1543 V1564 Q459.8,1567 463,1567 Q484,1563 497.5,1540.5 Z" stroke-width="1.8"/>
<text x="426" y="1450.5" font-size="13" font-weight="bold">G</text>
<text x="448" y="1449.5" font-size="13" font-weight="bold">L</text>
<text x="498.5" y="1475" font-size="12.5" font-weight="bold">A</text>
<text x="508.5" y="1477.5" font-size="7" font-weight="bold">1</text>
<text x="514.5" y="1508" font-size="12.5" font-weight="bold">A</text>
<text x="524.5" y="1510.5" font-size="7" font-weight="bold">2</text>
<text x="388" y="1512.3" font-size="13" font-weight="bold">S</text>
<text x="397" y="1538" font-size="13" font-weight="bold">M</text>
<text x="500.5" y="1538.2" font-size="13" font-weight="bold">B</text>
<text x="372.8" y="1645.2" font-size="18.75" font-weight="bold" textLength="155.8" lengthAdjust="spacingAndGlyphs">IGNITION SWITCH</text>
<rect x="328.6" y="1655.5" width="244.1" height="114.6" fill="none" stroke-width="2"/>
<line x1="415.4" y1="1655.5" x2="415.4" y2="1770.1" stroke-width="2"/>
<line x1="328.6" y1="1681.7" x2="572.7" y2="1681.7" stroke-width="3.2"/>
<line x1="328.6" y1="1704.9" x2="572.7" y2="1704.9" stroke-width="2"/>
<line x1="328.6" y1="1725" x2="572.7" y2="1725" stroke-width="2"/>
<line x1="328.6" y1="1746.9" x2="572.7" y2="1746.9" stroke-width="2"/>
<text x="339" y="1674.1" font-size="15.12" font-weight="bold" textLength="68" lengthAdjust="spacingAndGlyphs">POSITION</text>
<text x="423.6" y="1674.1" font-size="15.12" font-weight="bold" textLength="58.9" lengthAdjust="spacingAndGlyphs">CIRCUIT</text>
<text x="503.4" y="1674.1" font-size="15.12" font-weight="bold" textLength="55.6" lengthAdjust="spacingAndGlyphs">“MAKE”</text>
<text x="359" y="1700.7" font-size="14.39" textLength="27.9" lengthAdjust="spacingAndGlyphs">OFF</text>
<text x="423.6" y="1700.7" font-size="14.39" textLength="57" lengthAdjust="spacingAndGlyphs">M+G+A1</text>
<text x="331.4" y="1720.7" font-size="11.19" textLength="82.1" lengthAdjust="spacingAndGlyphs">RUN/OVERRIDE</text>
<text x="435.9" y="1720.7" font-size="13.81" textLength="33.3" lengthAdjust="spacingAndGlyphs">B+A1</text>
<text x="357" y="1742.5" font-size="13.81" textLength="30.5" lengthAdjust="spacingAndGlyphs">RUN</text>
<text x="435.9" y="1742.5" font-size="13.81" textLength="33.3" lengthAdjust="spacingAndGlyphs">B+A1</text>
<text x="513.8" y="1742.5" font-size="13.81" textLength="33.3" lengthAdjust="spacingAndGlyphs">L+A2</text>
<text x="349.5" y="1764.4" font-size="15.26" textLength="47.5" lengthAdjust="spacingAndGlyphs">START</text>
<text x="417.9" y="1764.4" font-size="15.26" textLength="68.9" lengthAdjust="spacingAndGlyphs">B + S + A1</text>
<text x="580" y="1770" font-size="15.12" textLength="44" lengthAdjust="spacingAndGlyphs">02928</text>
<rect x="679.4" y="1585.3" width="71.1" height="120.9" fill="none" stroke-width="2"/>
<rect x="684.5" y="1590" width="61.1" height="110.9" fill="none" stroke-width="2"/>
<path d="M687.2,1585.3 V1575.5 H742.1 V1585.3 M691.5,1585.3 V1580.8 H738 V1585.3" stroke-width="2"/>
<path d="M687.2,1706.2 V1717 H742.1 V1706.2 M691.5,1706.2 V1711 H738 V1706.2" stroke-width="2"/>
<path d="M679.4,1592.5 H661 V1691.5 H679.4 M667.2,1592.5 V1691.5 M661,1600.4 H679.4 M667.2,1682.7 H679.4" stroke-width="2"/>
<path d="M750.5,1592.5 H767.6 V1691.5 H750.5 M760.3,1592.5 V1691.5 M750.5,1600.4 H760.3 M750.5,1682.7 H760.3" stroke-width="2"/>
<text x="644.7" y="1741.5" font-size="15.7" textLength="139.1" lengthAdjust="spacingAndGlyphs">CHASSIS HARNESS</text>
<text x="667.2" y="1759.1" font-size="15.7" textLength="93.1" lengthAdjust="spacingAndGlyphs">CONNECTOR</text>
<text x="662.3" y="1775.8" font-size="15.7" textLength="102.9" lengthAdjust="spacingAndGlyphs">(MATING SIDE)</text>
<path d="M689.5,1602 V1614 H695 A6,6 0 0 0 695,1602 Z" stroke-width="1.9"/>
<text x="697.5" y="1618" font-size="10">3</text>
<circle cx="730" cy="1607" r="6" fill="none" stroke-width="1.9"/>
<text x="735" y="1618" font-size="10">6</text>
<circle cx="694" cy="1647.4" r="6" fill="none" stroke-width="1.9"/>
<text x="698" y="1659" font-size="10">2</text>
<path d="M737.5,1641.4 V1653.4 H732 A6,6 0 0 1 732,1641.4 Z" stroke-width="1.9"/>
<text x="737.5" y="1659" font-size="10">5</text>
<path d="M689.5,1679.6 V1691.6 H695 A6,6 0 0 0 695,1679.6 Z" stroke-width="1.9"/>
<text x="700.5" y="1697" font-size="10">1</text>
<circle cx="730" cy="1685.6" r="6" fill="none" stroke-width="1.9"/>
<text x="735" y="1696" font-size="10">4</text>
<path d="M842.6,1575.5 H852.4 V1600.4 H924 V1575.5 H934.7 V1718.5 H924 V1699.7 H852.4 V1718.5 H842.6 Z" stroke-width="2"/>
<rect x="861.2" y="1575.5" width="18.7" height="24.9" fill="none" stroke-width="2"/>
<rect x="897.5" y="1575.5" width="18.6" height="24.9" fill="none" stroke-width="2"/>
<line x1="861.2" y1="1582.7" x2="879.9" y2="1582.7" stroke-width="2"/>
<line x1="897.5" y1="1587.6" x2="916.1" y2="1587.6" stroke-width="2"/>
<rect x="861.2" y="1699.7" width="18.7" height="18.8" fill="none" stroke-width="2"/>
<rect x="897.5" y="1699.7" width="18.6" height="18.8" fill="none" stroke-width="2"/>
<line x1="861.2" y1="1709.1" x2="879.9" y2="1709.1" stroke-width="2"/>
<line x1="897.5" y1="1710" x2="916.1" y2="1710" stroke-width="2"/>
<circle cx="871" cy="1619" r="6" fill="none" stroke-width="1.9"/>
<text x="876" y="1630" font-size="10">6</text>
<path d="M912.5,1613 V1625 H907 A6,6 0 0 1 907,1613 Z" stroke-width="1.9"/>
<text x="895" y="1630" font-size="10">3</text>
<path d="M866.5,1642.4 V1654.4 H872 A6,6 0 0 0 872,1642.4 Z" stroke-width="1.9"/>
<text x="877" y="1659" font-size="10">5</text>
<circle cx="905.5" cy="1648.4" r="6" fill="none" stroke-width="1.9"/>
<text x="894" y="1659" font-size="10">2</text>
<circle cx="871" cy="1682.7" r="6" fill="none" stroke-width="1.9"/>
<text x="876" y="1694" font-size="10">4</text>
<path d="M912.5,1675.7 V1687.7 H907 A6,6 0 0 1 907,1675.7 Z" stroke-width="1.9"/>
<text x="896" y="1693" font-size="10">1</text>
<text x="831.8" y="1741.5" font-size="15.7" textLength="113.7" lengthAdjust="spacingAndGlyphs">DASH HARNESS</text>
<text x="841.6" y="1759.1" font-size="15.7" textLength="93.1" lengthAdjust="spacingAndGlyphs">CONNECTOR</text>
<text x="836.7" y="1775.8" font-size="15.7" textLength="102.9" lengthAdjust="spacingAndGlyphs">(MATING SIDE)</text>
<text x="999.1" y="1616.5" font-size="17.88" font-weight="bold" textLength="226.7" lengthAdjust="spacingAndGlyphs">WIRING INSULATED CLIPS</text>
<text x="997.8" y="1637.8" font-size="17.9" textLength="248.5" lengthAdjust="spacingAndGlyphs"><tspan font-weight="bold">NOTE:</tspan> IF WIRING INSULATED</text>
<text x="997.8" y="1655.6" font-size="17.88" textLength="243.2" lengthAdjust="spacingAndGlyphs">CLIPS WERE REMOVED FOR</text>
<text x="997.8" y="1673.3" font-size="17.88" textLength="227.2" lengthAdjust="spacingAndGlyphs">SERVICING OF UNIT, THEY</text>
<text x="997.8" y="1691.9" font-size="17.88" textLength="229.7" lengthAdjust="spacingAndGlyphs">SHOULD BE REPLACED TO</text>
<text x="997.8" y="1710.2" font-size="17.88" textLength="228.2" lengthAdjust="spacingAndGlyphs">PROPERLY SECURE YOUR</text>
<text x="1001.9" y="1728" font-size="17.88" textLength="68.2" lengthAdjust="spacingAndGlyphs">WIRING.</text>
<path d="M1314.6,1622.2 H1391.1" stroke-width="2"/>
<circle cx="1352" cy="1622.2" r="9.6" fill="#000" stroke="none"/>
<text x="1280.5" y="1649.5" font-size="17.01" textLength="143.4" lengthAdjust="spacingAndGlyphs">NON-REMOVABLE</text>
<text x="1291.4" y="1665.9" font-size="17.01" textLength="120.2" lengthAdjust="spacingAndGlyphs">CONNECTIONS</text>
<path d="M1322.8,1706.9 H1399.3" stroke-width="2"/>
<circle cx="1360.5" cy="1706.9" r="9" fill="#fff" stroke-width="2"/>
<text x="1310.5" y="1733.4" font-size="17.01" textLength="102.5" lengthAdjust="spacingAndGlyphs">REMOVABLE</text>
<text x="1301" y="1749.8" font-size="17.01" textLength="121" lengthAdjust="spacingAndGlyphs">CONNECTIONS</text>
<circle cx="1617.3" cy="639.5" r="1.5" fill="#000" stroke="none"/>
<circle cx="143.5" cy="1852" r="1.2" fill="#000" stroke="none"/>
</svg>
</body></html>
